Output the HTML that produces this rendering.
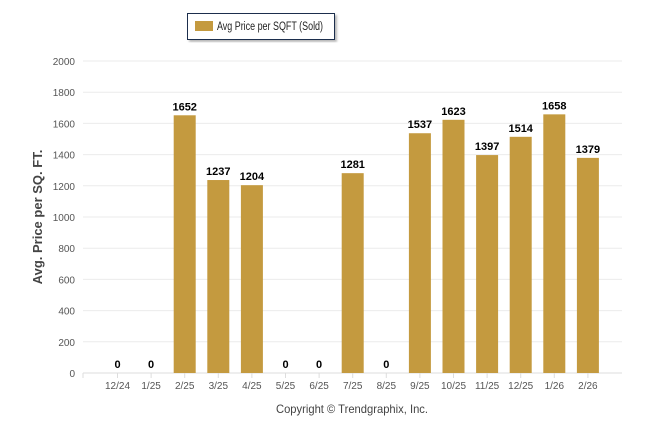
<!DOCTYPE html>
<html><head><meta charset="utf-8"><style>
body{margin:0;background:#fff;font-family:"Liberation Sans",Arial,sans-serif}
</style></head><body>
<svg width="646" height="434" xmlns="http://www.w3.org/2000/svg">
<defs><filter id="sh"><feDropShadow dx="2" dy="2" stdDeviation="1" flood-color="#888" flood-opacity="0.6"/></filter></defs>
<g>
<rect x="187.5" y="13.5" width="147" height="26" fill="#fff" stroke="#1f2d4d" stroke-width="1" filter="url(#sh)"/>
<rect x="195" y="21" width="18" height="10" fill="#c49a3f"/>
<text x="217" y="30" font-size="11.5" fill="#222" textLength="106" lengthAdjust="spacingAndGlyphs">Avg Price per SQFT (Sold)</text>
</g>
<g id="grid"></g>
<g id="yt"></g>
<g id="bars"></g>
<g id="xt"></g>
<text transform="translate(42,217) rotate(-90)" text-anchor="middle" font-size="13" font-weight="bold" fill="#444">Avg. Price per SQ. FT.</text>
<text x="352" y="413" text-anchor="middle" font-size="12" fill="#444" textLength="152" lengthAdjust="spacingAndGlyphs">Copyright © Trendgraphix, Inc.</text>
</svg>
<script>
const categories=["12/24","1/25","2/25","3/25","4/25","5/25","6/25","7/25","8/25","9/25","10/25","11/25","12/25","1/26","2/26"];
const values=[0,0,1652,1237,1204,0,0,1281,0,1537,1623,1397,1514,1658,1379];
const yTicks=[0,200,400,600,800,1000,1200,1400,1600,1800,2000];
const NS="http://www.w3.org/2000/svg";
const y=v=>373-v*0.156;
const x=i=>117.5+i*33.6;
function mk(t,a,p,txt){const e=document.createElementNS(NS,t);for(const k in a)e.setAttribute(k,a[k]);if(txt!==undefined)e.textContent=txt;p.appendChild(e);return e;}
const g=document.getElementById('grid'),yt=document.getElementById('yt'),b=document.getElementById('bars'),xt=document.getElementById('xt');
yTicks.forEach(v=>{
 const l=mk('line',{x1:83,x2:622,y1:y(v),y2:y(v),stroke:v===0?'#ddd':'#ebebeb','stroke-width':1},g);
 
 
 const t=mk('text',{x:75,y:y(v)+4,'text-anchor':'end','font-size':10,fill:'#555'},yt,String(v));
 
 
});
mk('line',{x1:83,x2:83,y1:373,y2:378,stroke:'#ddd'},xt);
categories.forEach((c,i)=>{
 const cx=x(i);
 if(values[i]>0){
  const r=mk('rect',{x:cx-11,y:y(values[i]),width:22,height:373-y(values[i]),fill:'#c49a3f'},b);
  
  
 }
 const lv=mk('text',{x:cx,y:y(values[i])-5,'text-anchor':'middle','font-size':11,'font-weight':'bold',fill:'#000'},b,String(values[i]));
 
 
 mk('line',{x1:cx,x2:cx,y1:373,y2:378,stroke:'#ddd'},xt);
 const t=mk('text',{x:cx,y:389,'text-anchor':'middle','font-size':10,fill:'#555'},xt,c);
 
 
});
</script>
</body></html>
